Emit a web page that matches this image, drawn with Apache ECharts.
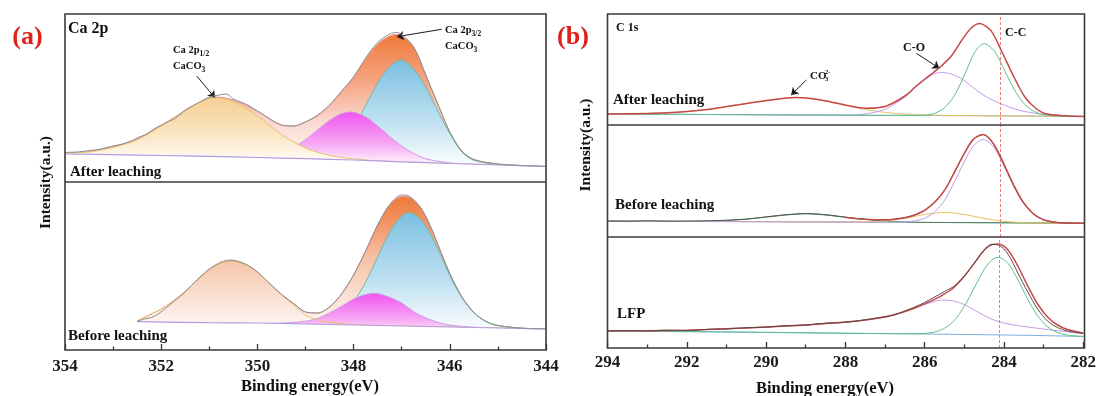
<!DOCTYPE html>
<html>
<head>
<meta charset="utf-8">
<script src="https://cdn.jsdelivr.net/npm/echarts@6/dist/echarts.min.js"></script>
<style>
  html, body { margin: 0; padding: 0; background: #fff; }
  #chart { width: 1099px; height: 396px; }
</style>
</head>
<body>
<div id="chart"></div>
<script>
// Ca 2p, after leaching  [binding energy, intensity]
var caAfterBase = [[354,28],[353,27.3],[352,26.5],[351,25.6],[350,24.5],[349,23.3],[348,22],[347,20.2],[346,18.5],[345,17],[344,15.5]];
var caAfterP12 = [[354,29],[353.5,30],[353,34.5],[352.5,42],[352,56],[351.5,71],[351,83.5],[350.85,84],[350.5,80.3],[350,66],[349.5,47.5],[349,34],[348.5,26.5],[348,23.1],[347.5,21.2],[347,20.2],[346,18.5],[345,17],[344,15.5]];
var caAfterMid = [[350,25.5],[349.5,29.4],[349.25,34.6],[349,42.3],[348.75,52],[348.5,61.6],[348.25,68.3],[348.05,70],[347.75,65],[347.5,56],[347.25,45.5],[347,36],[346.75,28.5],[346.5,23.3],[346,19.1],[345,17]];
var caAfterP32 = [[349,24],[348.5,29],[348.25,37],[348,54],[347.75,76.5],[347.5,99],[347.25,115.5],[347,122],[346.75,112.7],[346.5,95],[346.25,71],[346,48.5],[345.75,30],[345.5,21.7],[345,17.5],[344,15.5]];
var caAfterFit = [[354,29],[353.5,30.5],[353,35.5],[352.5,43],[352,56.5],[351.5,71.5],[351,84],[350.85,85],[350.5,82],[350,71],[349.5,57],[349.25,56],[349,60],[348.75,66],[348.5,76],[348.25,90],[348,105],[347.75,123],[347.5,138],[347.25,146],[347.1,147.5],[347,146],[346.75,135],[346.5,107],[346.25,78],[346,50],[345.75,31],[345.5,22.5],[345,18],[344.5,16.5],[344,15.5]];
var caAfterRaw = [[354,29.5],[353.7,30.2],[353.5,31.5],[353.3,32.5],[353.1,35],[353,36],[352.8,38],[352.6,41.5],[352.5,44],[352.3,48],[352.2,51.5],[352,57],[351.7,64],[351.5,72],[351.2,80],[351,85],[350.8,87],[350.65,88],[350.5,83],[350.2,77],[350,71],[349.5,57],[349.25,56],[349,60],[348.75,67],[348.5,77],[348.25,91],[348,105],[347.75,124],[347.5,139.5],[347.25,148],[347.1,149.5],[347,147.5],[346.75,135],[346.5,107],[346.25,78],[346,50],[345.75,31],[345.5,22.5],[345,18],[344.5,16.5],[344,15.5]];

// Ca 2p, before leaching
var caBeforeBase = [[352.5,28.3],[351,27.3],[350,27],[349,26],[348,25],[347,24],[346,23],[345,22],[344,21]];
var caBeforeP12 = [[352.5,29],[352.25,35],[352,41],[351.75,49],[351.5,58.7],[351.25,70],[351,80.3],[350.75,87.2],[350.53,89.1],[350.25,85.5],[350,78],[349.75,66.7],[349.5,55.2],[349.25,45],[349,35],[348.75,30],[348.5,27.5],[348,25.3],[347.5,24.5],[347,24],[346,23],[345,22],[344,21]];
var caBeforeMid = [[349.5,26.9],[349,28.8],[348.75,31.6],[348.5,37.1],[348.25,43.7],[348,50.9],[347.75,55.5],[347.56,56.6],[347.25,52.7],[347,46.9],[346.75,38.3],[346.5,32.1],[346.25,27.7],[346,24.9],[345.5,22.8],[345,22]];
var caBeforeP32 = [[349,26.5],[348.5,30],[348.25,36.3],[348,48.5],[347.75,67.8],[347.5,93],[347.25,117.8],[347,134],[346.83,137.3],[346.6,130.2],[346.4,115.9],[346.2,95.8],[346,74.5],[345.75,52.4],[345.5,37.1],[345.25,28.6],[345,24.5],[344.5,21.8],[344,21]];
var caBeforeFit = [[352.5,29],[352.25,35],[352,41],[351.75,49],[351.5,58.7],[351.25,70],[351,80.3],[350.75,87.2],[350.53,89.1],[350.25,85.5],[350,78],[349.75,66.7],[349.5,55.6],[349.25,46.6],[349,38],[348.75,37],[348.5,43],[348.25,56],[348,75],[347.75,99],[347.5,125],[347.25,145],[347,153.5],[346.83,152.5],[346.6,141.7],[346.4,123.4],[346.2,99.8],[346,76.4],[345.75,53.2],[345.5,37.4],[345.25,28.6],[345,24.5],[344.5,21.8],[344,21]];
var caBeforeRaw = [[352.5,28.5],[352.35,31],[352.2,32.5],[352.05,36.5],[351.9,42],[351.75,48],[351.5,58],[351.25,70.5],[351,81],[350.75,88],[350.55,90],[350.25,86],[350,78],[349.75,66.7],[349.5,55.6],[349.25,46.6],[349,38],[348.75,37],[348.5,43],[348.25,56],[348,75],[347.75,99],[347.5,125],[347.25,145.5],[347,155],[346.83,153.5],[346.6,142],[346.4,123.4],[346.2,99.8],[346,76.4],[345.75,53.2],[345.5,37.4],[345.25,28.6],[345,24.5],[344.5,21.8],[344,21]];

// C 1s, after leaching
var cAfterBase = [[294,11],[292,10.6],[290,10.2],[288,9.8],[286,9.5],[284,9.1],[282,8.5]];
var cAfterCO3 = [[294,11],[293,11.5],[292.5,12.3],[292,13.5],[291.5,15.5],[291,18.3],[290.5,21.5],[290,24.5],[289.5,27],[289.25,27.5],[289,27],[288.5,24],[288,19.5],[287.5,15.5],[287,12.5],[286.5,10.8],[286,10],[285,9.4],[284,9.1],[282,8.5]];
var cAfterCO = [[294,11],[290,10.2],[288.5,10],[288,10],[287.5,11.2],[287,16],[286.5,28.5],[286.25,37.5],[286,45.5],[285.8,51],[285.6,52.5],[285.35,51],[285.1,46.4],[284.85,38.9],[284.6,31.3],[284.35,25.7],[284.1,21.1],[283.75,16],[283.5,13.5],[283,10.3],[282.5,9.2],[282,8.5]];
var cAfterCC = [[294,11],[290,10.2],[286.5,9.6],[286,10],[285.75,12],[285.5,18],[285.25,31],[285,52],[284.75,73.5],[284.52,81.3],[284.25,72.9],[284,53.6],[283.75,34.3],[283.5,20.5],[283.25,13.2],[283,10.1],[282.5,8.7],[282,8.5]];
var cAfterFit = [[294,11],[293,11.6],[292.5,12.2],[292,13.5],[291.5,15.5],[291,18.4],[290.5,21.5],[290,24.5],[289.5,27],[289.25,27.4],[289,27],[288.5,24.1],[288,19.8],[287.5,16.8],[287,18.8],[286.5,29.5],[286.25,38.5],[286,46.5],[285.8,52.5],[285.6,59],[285.35,69],[285.1,84],[284.85,97],[284.64,101.5],[284.35,94.1],[284.1,75],[283.75,46],[283.5,28],[283.25,17.5],[283,11.5],[282.5,9.2],[282,8.5]];

// C 1s, before leaching
var cBeforeBase = [[294,16],[290,15.3],[286,14.6],[284,14.2],[282,13.7]];
var cBeforeCO3 = [[294,16],[292,15.6],[291.5,15.9],[291,16.5],[290.5,17.8],[290,19.9],[289.5,22],[289,23.2],[288.5,21.9],[288,19.6],[287.5,17.5],[287,16],[286.5,15.1],[286,14.6],[284,14.2],[282,13.7]];
var cBeforeCO = [[294,16],[290,15.3],[288,15],[287.5,15.2],[287,16.1],[286.5,18.8],[286,22.6],[285.5,24.5],[285,22.4],[284.5,18.4],[284,15.6],[283.5,14.3],[283,13.9],[282,13.7]];
var cBeforeCC = [[294,16],[287,14.8],[286.5,15.1],[286.25,16.2],[286,19.1],[285.75,25.9],[285.5,37.9],[285.25,56.9],[285,77.1],[284.8,90.8],[284.55,97.6],[284.3,90.7],[284.05,73],[283.8,52.2],[283.55,34.7],[283.3,23.4],[283.05,17.5],[282.8,15.1],[282.5,14],[282,13.7]];
var cBeforeFit = [[288,19.6],[287.5,17.8],[287,17.3],[286.5,19.6],[286.25,22.3],[286,27.1],[285.75,35.4],[285.5,47.9],[285.25,66.4],[285,85.1],[284.8,97.4],[284.55,102.5],[284.3,93.9],[284.05,75],[283.8,53.3],[283.55,35.3],[283.3,23.7],[283.05,17.6],[282.8,15.05],[282.5,14.05],[282,13.7]];
var cBeforeRaw = [[294,16],[293.5,15.7],[293,16.2],[292.5,15.8],[292,15.9],[291.5,16.2],[291,16.8],[290.5,18],[290,20.2],[289.5,22.3],[289,23.5],[288.5,22.3],[288,19.8],[287.5,17.6],[287,17.2],[286.5,19.4],[286.25,22.5],[286,27.5],[285.75,35.8],[285.5,48.2],[285.25,66.8],[285,85.4],[284.8,97.8],[284.55,102.5],[284.3,93.5],[284.05,74.5],[283.8,53],[283.55,35],[283.3,23.5],[283.05,17.4],[282.8,15],[282.5,14],[282,13.7]];

// C 1s, LFP
var cLfpBase = [[294,17],[290,15.5],[286,14],[284,13],[283,12.4],[282,11.5]];
var cLfpCO = [[294,17.2],[293,17.3],[292,17.8],[291.5,18.5],[291,19.3],[290.5,20],[290,21],[289.5,22],[289,23],[288.5,24.5],[288,26],[287.5,28],[287,31],[286.75,33.5],[286.5,36.5],[286.25,40],[286,43.5],[285.75,46.5],[285.56,48],[285.3,47.2],[285,43.5],[284.75,38],[284.5,32.5],[284.25,28],[284,25],[283.75,23],[283.5,21.5],[283,19],[282.5,16.5],[282,14.6]];
var cLfpCC = [[294,17.3],[290,15.7],[286.5,14.3],[286.25,14.3],[286,14.6],[285.75,16],[285.5,19.7],[285.25,27.6],[285,41.8],[284.75,60],[284.5,78.5],[284.3,88.2],[284.14,90.7],[283.9,84.7],[283.65,68.4],[283.4,48.8],[283.15,32.1],[282.9,21.2],[282.65,15.5],[282.4,12.9],[282,11.6]];
var cLfpFit = [[294,17.2],[293,17.3],[292,17.8],[291.5,18.5],[291,19.3],[290.5,20],[290,21],[289.5,22],[289,23],[288.5,24.5],[288,26],[287.5,28],[287,31],[286.75,33.5],[286.5,36.5],[286.25,40],[286,44.1],[285.75,48.6],[285.56,52.7],[285.3,59.2],[285,71.8],[284.75,84.6],[284.5,97.8],[284.3,103.5],[284.14,104],[283.9,98],[283.65,82],[283.4,62],[283.15,44],[282.9,31],[282.65,23],[282.4,18.5],[282,15]];
var cLfpRaw = [[294,17],[293.5,17.4],[293,17.1],[292.5,17.8],[292,17.5],[291.5,18.6],[291,19],[290.5,20.3],[290,20.8],[289.5,22.3],[289,23],[288.5,24.8],[288,25.6],[287.5,28.2],[287,31.4],[286.75,33.2],[286.5,37],[286.25,41],[286,45.5],[285.75,51],[285.5,56.5],[285.25,62],[285,72],[284.75,85],[284.5,98],[284.3,103.5],[284.14,103],[283.9,94],[283.65,75],[283.4,56],[283.15,39],[282.9,27],[282.65,20.5],[282.4,17],[282,14.5]];

var ccPosition = 284.12;

var FONT = '"Liberation Serif", "Times New Roman", serif';

var chart = echarts.init(document.getElementById('chart'));

function grad(stops) {
  return new echarts.graphic.LinearGradient(0, 0, 0, 1, stops.map(function (s) {
    return { offset: s[0], color: s[1] };
  }));
}

function curve(g, data, color, width, z, fill) {
  var s = {
    type: 'line', xAxisIndex: g, yAxisIndex: g, data: data,
    smooth: 0.3, symbol: 'none', z: z, silent: true,
    lineStyle: { color: color, width: width }
  };
  if (fill) s.areaStyle = { color: fill, origin: 'start', opacity: 1 };
  return s;
}

function arrows(lines) {
  return {
    silent: true, symbol: ['none', 'arrow'], symbolSize: 7, animation: false,
    label: { show: false },
    lineStyle: { color: '#1a1a1a', width: 1, type: 'solid' },
    data: lines.map(function (l) { return [{ coord: l[0] }, { coord: l[1] }]; })
  };
}

var grids = [], xAxes = [], yAxes = [];
function addGrid(left, top, width, height, min, max, bottomAxis, margin) {
  grids.push({ left: left, top: top, width: width, height: height, show: false });
  xAxes.push({
    type: 'value', gridIndex: grids.length - 1, min: min, max: max, interval: 2, inverse: true, z: 10,
    axisLine: { show: false }, splitLine: { show: false },
    axisTick: { show: bottomAxis, inside: true, length: 6, lineStyle: { color: '#333', width: 1.3 } },
    minorTick: { show: bottomAxis, splitNumber: 2, length: 3.5, lineStyle: { color: '#333', width: 1.3 } },
    axisLabel: { show: bottomAxis, margin: margin, color: '#1a1a1a', fontFamily: FONT, fontWeight: 'bold', fontSize: 17 }
  });
  yAxes.push({ type: 'value', gridIndex: grids.length - 1, min: 0, max: height, show: false });
}

// panel (a)
addGrid(65, 14, 481, 168, 344, 354, false, 8);
addGrid(65, 182, 481, 168, 344, 354, true, 8);
// panel (b)
addGrid(607.5, 14, 477, 111, 282, 294, false, 6);
addGrid(607.5, 125, 477, 112, 282, 294, false, 6);
addGrid(607.5, 237, 477, 111, 282, 294, true, 6);

var fitFill = [[0, '#ef7a3a'], [0.3, '#f5a27e'], [0.6, '#fadad2'], [0.85, '#fef5f3'], [1, '#ffffff']];
var fitFill2 = [[0, '#ef7a3a'], [0.15, '#f29060'], [0.42, '#f6c5aa'], [0.7, '#fbe6dc'], [0.86, '#fff7f4'], [1, '#ffffff']];
var blueFill = [[0, '#7bbfe0'], [0.5, '#bfe1f1'], [0.8, '#f2f9fd'], [1, '#ffffff']];
var pinkFill = [[0, '#f055ee'], [0.45, '#f7a6f3'], [0.7, '#fdeafb'], [1, '#ffffff']];
var creamFill = [[0, '#f6cf94'], [0.4, '#fae3bf'], [0.7, '#fff8ee'], [1, '#ffffff']];

var series = [];
// a top
series.push(curve(0, caAfterFit, '#e79090', 1, 2, grad(fitFill)));
series.push(curve(0, caAfterP32, '#6fb9a0', 1, 3, grad(blueFill)));
series.push(curve(0, caAfterMid, '#c99be8', 1, 4, grad(pinkFill)));
series.push(curve(0, caAfterP12, '#e5c46c', 1, 5, grad(creamFill)));
series.push(curve(0, caAfterBase, '#b39be3', 1.2, 6, '#ffffff'));
var rawA = curve(0, caAfterRaw, '#8e8e8e', 1, 7);
rawA.markLine = arrows([[[351.26, 106], [350.88, 84]], [[346.17, 152.7], [347.1, 145.3]]]);
series.push(rawA);
// a bottom
series.push(curve(1, caBeforeFit, '#e79090', 1, 2, grad(fitFill2)));
series.push(curve(1, caBeforeP32, '#6fb9a0', 1, 3, grad(blueFill)));
series.push(curve(1, caBeforeMid, '#c99be8', 1, 4, grad(pinkFill)));
series.push(curve(1, caBeforeP12, '#e5c46c', 1, 5));
series.push(curve(1, caBeforeBase, '#b39be3', 1.2, 6, '#ffffff'));
series.push(curve(1, caBeforeRaw, '#8e8e8e', 1, 7));

// b panels
var dash = {
  silent: true, symbol: ['none', 'none'], animation: false, label: { show: false },
  lineStyle: { color: '#f07b7b', type: [3, 2], width: 1 },
  data: [{ xAxis: ccPosition }]
};
var bSets = [
  [2, cAfterBase, cAfterCO3, cAfterCO, cAfterCC, cAfterFit],
  [3, cBeforeBase, cBeforeCO3, cBeforeCO, cBeforeCC, cBeforeFit],
  [4, cLfpBase, null, cLfpCO, cLfpCC, cLfpFit]
];
bSets.forEach(function (b) {
  var g = b[0];
  var base = curve(g, b[1], g === 3 ? '#6cbf9c' : '#7aaede', 1, 2);
  base.markLine = dash;
  series.push(base);
  if (b[2]) series.push(curve(g, b[2], g === 3 ? '#4f7d5c' : '#e8c060', 1, 3));
  if (g === 3) {
    series.push(curve(g, b[3], '#e8c060', 1, 3));
    series.push(curve(g, b[4], '#c39be8', 1, 4));
  } else {
    series.push(curve(g, b[3], '#c39be8', 1, 4));
    series.push(curve(g, b[4], '#5cbf8a', 1, 4));
  }
  var fit = curve(g, b[5], '#c44a48', 1.5, 5);
  if (g === 2) fit.markLine = arrows([[[289.0, 45], [289.38, 30]], [[286.23, 71.7], [285.65, 56.7]]]);
  series.push(fit);
});
series.push(curve(3, cBeforeRaw, '#4d5a4d', 1, 4));
series.push(curve(4, cLfpRaw, '#5e4848', 1, 6));

function text(x, y, str, size, opts) {
  opts = opts || {};
  return {
    type: 'text', x: x, y: y, rotation: opts.rot || 0, z: 100, silent: true,
    style: {
      text: str, fill: opts.color || '#111',
      font: 'bold ' + size + 'px ' + FONT,
      textAlign: opts.align || 'left', textVerticalAlign: opts.va || 'middle',
      rich: opts.rich
    }
  };
}
var subRich = {
  m: { fontSize: 10.5, fontWeight: 'bold', fontFamily: FONT, lineHeight: 15.5, verticalAlign: 'middle', fill: '#111' },
  s: { fontSize: 7.5, fontWeight: 'bold', fontFamily: FONT, lineHeight: 15.5, verticalAlign: 'bottom', fill: '#111' }
};

function frame(x, y, w, h) {
  return { type: 'rect', z: 100, silent: true, shape: { x: x, y: y, width: w, height: h },
    style: { fill: 'none', stroke: '#3a3a3a', lineWidth: 1.6 } };
}
function hline(x1, x2, y) {
  return { type: 'line', z: 100, silent: true, shape: { x1: x1, y1: y, x2: x2, y2: y },
    style: { stroke: '#3a3a3a', lineWidth: 1.6 } };
}

var graphics = [
  frame(65, 14, 481, 336), hline(65, 546, 182),
  frame(607.5, 14, 477, 334), hline(607.5, 1084.5, 125), hline(607.5, 1084.5, 237),
  text(27.5, 37, '(a)', 26, { color: '#e0201b', align: 'center' }),
  text(573, 37, '(b)', 26, { color: '#e0201b', align: 'center' }),
  text(68, 29, 'Ca 2p', 16),
  text(70, 172, 'After leaching', 15),
  text(68, 336, 'Before leaching', 15),
  text(173, 43, '{m|Ca 2p}{s|1/2}\n{m|CaCO}{s|3}', 10.5, { va: 'top', rich: subRich }),
  text(445, 23, '{m|Ca 2p}{s|3/2}\n{m|CaCO}{s|3}', 10.5, { va: 'top', rich: subRich }),
  text(616, 27.5, 'C 1s', 12),
  text(613, 100.5, 'After leaching', 15),
  text(615, 205, 'Before leaching', 15),
  text(617, 314, 'LFP', 15),
  text(810, 76, 'CO', 11),
  text(825, 72, '2-', 6.5),
  text(825, 79, '3', 6.5),
  text(914, 48, 'C-O', 12, { align: 'center' }),
  text(1005, 32.5, 'C-C', 12),
  text(310, 386.5, 'Binding energy(eV)', 16.5, { align: 'center' }),
  text(825, 388.5, 'Binding energy(eV)', 16.5, { align: 'center' }),
  text(45.5, 182.5, 'Intensity(a.u.)', 15.5, { align: 'center', rot: Math.PI / 2 }),
  text(585.5, 145, 'Intensity(a.u.)', 15.5, { align: 'center', rot: Math.PI / 2 })
];

chart.setOption({
  animation: false,
  backgroundColor: '#ffffff',
  grid: grids,
  xAxis: xAxes,
  yAxis: yAxes,
  series: series,
  graphic: graphics
});
</script>
</body>
</html>
